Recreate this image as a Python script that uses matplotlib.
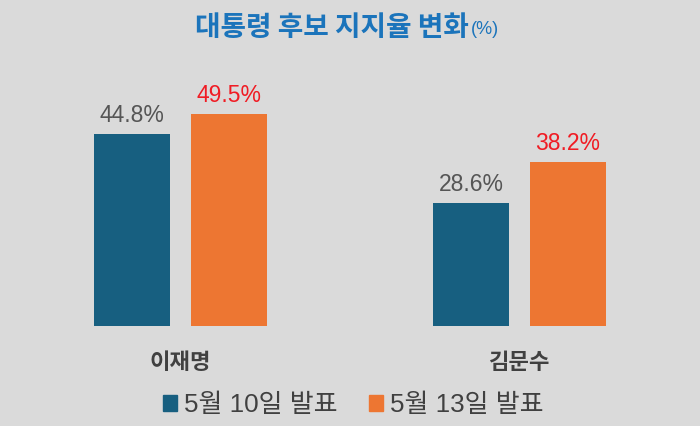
import matplotlib
matplotlib.use("Agg")
import matplotlib.pyplot as plt
from matplotlib.patches import Patch
import numpy as np

categories = ["이재명", "김문수"]
series_names = ["5월 10일 발표", "5월 13일 발표"]
may10 = [44.8, 28.6]
may13 = [49.5, 38.2]

bg = "#dadada"
c_blue = "#175f80"
c_orange = "#ed7632"

plt.rcParams['font.family'] = ['Liberation Sans', 'Noto Sans CJK KR', 'DejaVu Sans']

fig = plt.figure(figsize=(7, 4.26), dpi=100, facecolor=bg)
ax = fig.add_axes([11/700, 100/426, 678/700, 257.4/426])
ax.set_facecolor(bg)

x = np.arange(len(categories))
w = 0.224
off = 0.143
b1 = ax.bar(x - off, may10, w, color=c_blue)
b2 = ax.bar(x + off, may13, w, color=c_orange)
ax.bar_label(b1, labels=[f"{v:.1f}%" for v in may10], padding=5,
             fontsize=16.5, color="#555555")
ax.bar_label(b2, labels=[f"{v:.1f}%" for v in may13], padding=5,
             fontsize=16.5, color="#f01c24")

ax.set_xlim(-0.5, 1.5)
ax.set_ylim(0, 60)
ax.set_yticks([])
ax.set_xticks(x)
ax.set_xticklabels(categories, fontsize=16, fontweight='bold', color="#404040",
                   family=['Noto Sans CJK KR'])
ax.tick_params(axis='x', length=0, pad=18)
for s in ax.spines.values():
    s.set_visible(False)

handles = [Patch(color=c_blue), Patch(color=c_orange)]
fig.legend(handles, series_names, loc='center', bbox_to_anchor=(353/700, 1 - 405/426),
           ncol=2, frameon=False, fontsize=18.7, handlelength=0.54, handleheight=0.54,
           handletextpad=0.28, columnspacing=1.2, labelcolor="#404040")

t = fig.text(0.0, 1 - 28/426, "대통령 후보 지지율 변화", fontsize=20, fontweight='bold',
             color="#1b74bb", family=['Noto Sans CJK KR'], va='center', ha='left')
t2 = fig.text(0.0, 1 - 30/426, "(%)", fontsize=13, color="#1b74bb",
              family=['Liberation Sans'], va='center', ha='left')
fig.canvas.draw()
r = fig.canvas.get_renderer()
w1 = t.get_window_extent(r).width
w2 = t2.get_window_extent(r).width
start = 195
t.set_x(start / 700)
t2.set_x((start + w1 + 2) / 700)

fig.savefig("out.png", dpi=100, facecolor=bg)
